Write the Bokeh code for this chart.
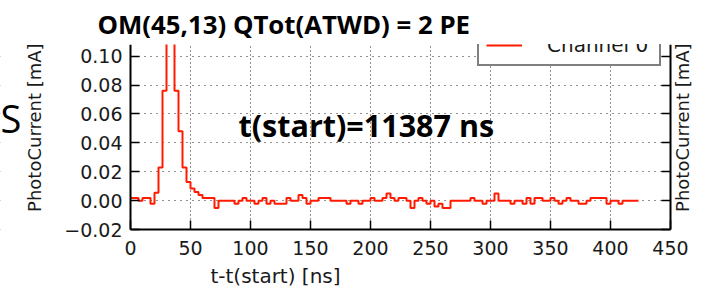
import numpy as np
from bokeh.plotting import figure
from bokeh.models import (Range1d, LinearAxis, FixedTicker, Label, Legend,
                          LegendItem, BoxAnnotation)
from bokeh.embed import file_html
from bokeh.resources import INLINE

# ---------------- data ----------------
bin_width_ns = 10.0 / 3.0   # ATWD sample width
photocurrent_mA = [
    0.002, 0.002, 0.0, 0.002, 0.002, -0.002, 0.0055, 0.023, 0.076, 0.17,
    0.15, 0.076, 0.048, 0.023, 0.013, 0.0085, 0.006, 0.004, 0.002, 0.002,
    0.002, -0.005, 0.0, 0.0, 0.0, 0.0, -0.002, 0.0, 0.002, 0.0,
    0.0, -0.002, 0.0, 0.002, -0.002, 0.0, -0.002, -0.002, -0.002, 0.002,
    0.0, 0.0, 0.004, 0.002, -0.002, 0.0, 0.0, 0.002, 0.002, 0.002,
    0.0, 0.0, 0.0, 0.0, -0.002, 0.0, 0.0, -0.002, 0.0, 0.0,
    0.002, 0.0, 0.0, 0.002, 0.005, 0.002, 0.0, 0.002, 0.002, 0.0,
    -0.005, 0.0, 0.002, 0.0, -0.002, 0.0, -0.004, -0.002, -0.005, -0.005,
    0.0, 0.0, 0.0, 0.0, 0.0, 0.002, 0.0, 0.0, -0.002, 0.0,
    0.0, 0.005, 0.0, 0.0, 0.0, -0.002, 0.0, 0.0, -0.002, 0.002,
    -0.002, 0.002, 0.002, 0.0, 0.0, 0.002, 0.0, -0.002, 0.0, 0.002,
    0.0, 0.0, -0.002, -0.002, 0.0, 0.002, 0.002, 0.002, 0.002, -0.002,
    0.0, 0.0, -0.002, 0.0, 0.0, 0.0, 0.0, 0.0,
]
sample_time_ns = np.arange(len(photocurrent_mA)) * bin_width_ns

x_ticks = [0, 50, 100, 150, 200, 250, 300, 350, 400, 450]
y_ticks = [-0.02, 0.0, 0.02, 0.04, 0.06, 0.08, 0.10]
y_tick_labels = ["\u22120.02", "0.00", "0.02", "0.04", "0.06", "0.08", "0.10"]

title_text = "OM(45,13) QTot(ATWD) = 2 PE"
start_text = "t(start)=11387 ns"
x_label = "t-t(start) [ns]"
y_label = "PhotoCurrent [mA]"
legend_label = "Channel 0"
side_letter = "S"

# ---------------- layout geometry (pixels) ----------------
W, H = 708, 287
AX_LEFT_PX, AX_RIGHT_PX = 130.0, 670.0     # where x=0 / x=450 sit
AX_BOTTOM_PX, AX_TOP_PX = 229.0, 43.0      # where y=-0.02 sits / crop line
PX_PER_NS = (AX_RIGHT_PX - AX_LEFT_PX) / (x_ticks[-1] - x_ticks[0])
PX_PER_MA = 1453.0

def xd(px):   # page pixel -> data x
    return x_ticks[0] + (px - AX_LEFT_PX) / PX_PER_NS

def yd(py):   # page pixel -> data y
    return y_ticks[0] + (AX_BOTTOM_PX - py) / PX_PER_MA

y_top = yd(AX_TOP_PX)

# ---------------- figure ----------------
TICK_FONT = "DejaVu Sans"
p = figure(width=W, height=H, output_backend="svg", toolbar_location=None,
           title=title_text,
           x_range=Range1d(xd(0), xd(W)), y_range=Range1d(yd(H), y_top),
           min_border_left=0, min_border_right=0, min_border_bottom=0,
           min_border_top=int(AX_TOP_PX))
p.outline_line_color = None
p.background_fill_color = "white"
p.border_fill_color = "white"

p.title.align = "left"
p.title.offset = 97
p.title.standoff = 6
p.title.text_font = "Open Sans"
p.title.text_font_style = "bold"
p.title.text_font_size = "25.8px"
p.title.text_color = "black"

# grid
p.xgrid.grid_line_color = "#222222"
p.xgrid.grid_line_dash = "1 3"
p.xgrid.grid_line_width = 1
p.ygrid.grid_line_color = "#222222"
p.ygrid.grid_line_dash = "1 5"
p.ygrid.grid_line_width = 1

# white masks limiting the grid to the axes box (drawn under the data)
for kw in (dict(right=x_ticks[0]), dict(left=x_ticks[-1]), dict(top=y_ticks[0])):
    p.add_layout(BoxAnnotation(fill_color="white", fill_alpha=1.0,
                               line_color=None, level="underlay", **kw))

r = p.step(x=sample_time_ns, y=photocurrent_mA, mode="after",
           line_color="#ff1a00", line_width=2)

# axes at fixed positions
p.xaxis.ticker = FixedTicker(ticks=x_ticks)
p.yaxis.ticker = FixedTicker(ticks=y_ticks)
p.xaxis.fixed_location = y_ticks[0]
p.yaxis.fixed_location = x_ticks[0]
p.xaxis.bounds = (x_ticks[0], x_ticks[-1])
p.yaxis.bounds = (y_ticks[0], y_top)
p.yaxis[0].major_label_overrides = dict(zip(y_ticks, y_tick_labels))

right_axis = LinearAxis(ticker=FixedTicker(ticks=y_ticks),
                        fixed_location=x_ticks[-1],
                        bounds=(y_ticks[0], y_top))
right_axis.major_label_overrides = {t: "" for t in y_ticks}
p.add_layout(right_axis, "right")

for ax in [p.xaxis[0], p.yaxis[0], right_axis]:
    ax.axis_line_color = "black"
    ax.axis_line_width = 2
    ax.major_tick_in = 9
    ax.major_tick_out = 0
    ax.major_tick_line_color = "black"
    ax.major_tick_line_width = 1.5
    ax.minor_tick_in = 0
    ax.minor_tick_out = 0
    ax.major_label_text_font = TICK_FONT
    ax.major_label_text_font_size = "19px"
    ax.major_label_text_color = "#1a1a1a"
p.yaxis[0].major_label_standoff = 8
p.xaxis[0].major_label_standoff = 11

# legend (its top is cut by the frame edge, like in the cropped original)
legend = Legend(items=[LegendItem(label=legend_label, renderers=[r])],
                location=(477, H - 66), padding=7, spacing=0, margin=0,
                glyph_width=36, glyph_height=20, label_standoff=25,
                label_width=105, label_height=20,
                label_text_font=TICK_FONT, label_text_font_size="20px",
                label_text_color="#1a1a1a",
                border_line_color="black", border_line_width=2,
                background_fill_color="white", background_fill_alpha=1.0)
p.add_layout(legend)

# texts (vertical positions are text centres)
labels = [
    Label(x=xd(238), y=yd(123.5), text=start_text, text_font="Open Sans",
          text_font_style="bold", text_font_size="30.5px", text_color="black",
          text_align="left", text_baseline="middle"),
    Label(x=xd(0), y=yd(116.5), text=side_letter, text_font="Open Sans",
          text_font_size="38px", text_color="black",
          text_align="left", text_baseline="middle"),
    Label(x=xd(34), y=yd(126.5), text=y_label, text_font=TICK_FONT,
          text_font_size="18px", text_color="#1a1a1a", angle=np.pi / 2,
          text_align="center", text_baseline="middle"),
    Label(x=xd(681.5), y=yd(126.5), text=y_label, text_font=TICK_FONT,
          text_font_size="18px", text_color="#1a1a1a", angle=np.pi / 2,
          text_align="center", text_baseline="middle"),
    Label(x=xd(275), y=yd(275.5), text=x_label, text_font=TICK_FONT,
          text_font_size="20px", text_color="#1a1a1a",
          text_align="center", text_baseline="middle"),
]
for lb in labels:
    p.add_layout(lb)

open("out.html", "w").write(file_html(p, INLINE))
